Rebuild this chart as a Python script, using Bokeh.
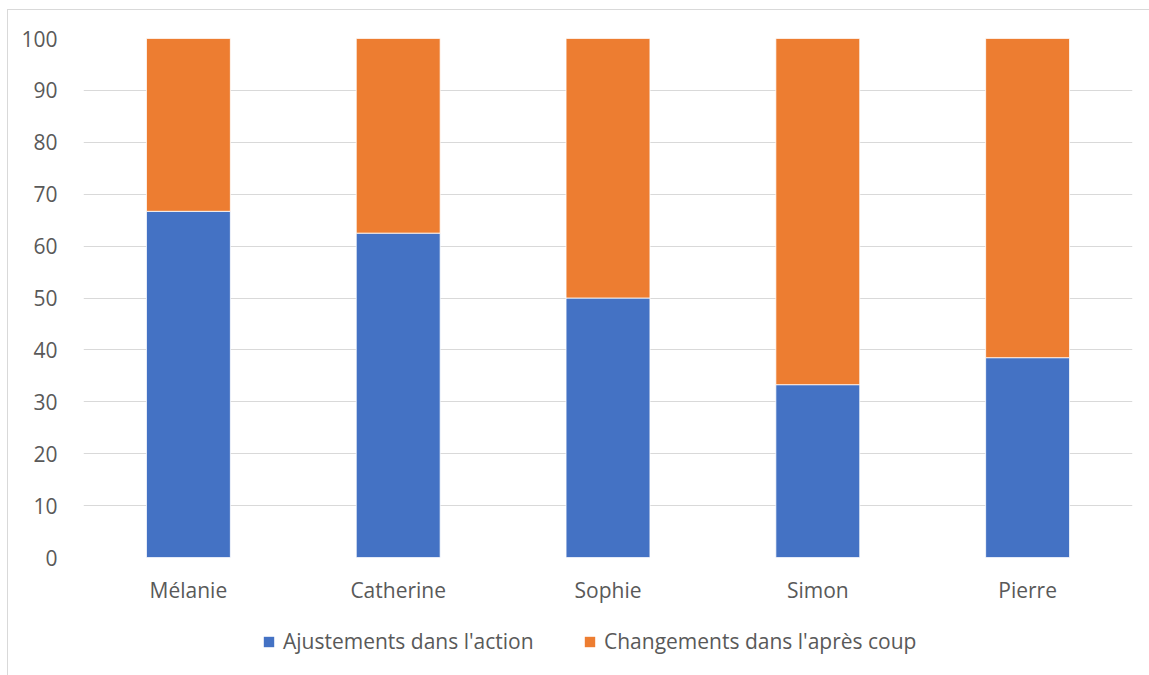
from bokeh.plotting import figure
from bokeh.layouts import column
from bokeh.models import Legend, LegendItem, FixedTicker, ColumnDataSource
from bokeh.embed import file_html
from bokeh.resources import INLINE

names = ["Mélanie", "Catherine", "Sophie", "Simon", "Pierre"]
ajustements = [66.7, 62.5, 50.0, 33.3, 38.5]
changements = [33.3, 37.5, 50.0, 66.7, 61.5]
series = ["Ajustements dans l'action", "Changements dans l'après coup"]
colors = ["#4472C4", "#ED7D31"]
y_ticks = [0, 10, 20, 30, 40, 50, 60, 70, 80, 90, 100]

FONT = "Open Sans"
TXT = "#595959"
FS = "21px"

source = ColumnDataSource(dict(name=names, a=ajustements, c=changements))

# main chart
p = figure(x_range=names, y_range=(0, 100), width=1149, height=610,
           output_backend="svg", toolbar_location=None,
           min_border_left=83, min_border_right=17, min_border_top=38, min_border_bottom=53)
p.x_range.range_padding = 0
p.outline_line_color = None
p.border_fill_color = None
p.background_fill_color = "white"

rs = p.vbar_stack(["a", "c"], x="name", width=0.4, color=colors, source=source,
                  line_color="white", line_width=0.8)

p.yaxis.ticker = FixedTicker(ticks=y_ticks)
for ax in (p.xaxis, p.yaxis):
    ax.axis_line_color = None
    ax.major_tick_line_color = None
    ax.minor_tick_line_color = None
    ax.major_label_text_font = FONT
    ax.major_label_text_font_size = FS
    ax.major_label_text_color = TXT
p.yaxis.major_label_standoff = 20
p.xaxis.major_label_standoff = 12
p.xgrid.grid_line_color = None
p.ygrid.grid_line_color = "#d9d9d9"
p.ygrid.grid_line_width = 1

# legend strip (same series, drawn out of view; only the legend shows)
p2 = figure(x_range=names, y_range=(1000, 1001), width=1149, height=65,
            output_backend="svg", toolbar_location=None,
            min_border_left=83, min_border_right=17, min_border_top=0, min_border_bottom=0)
p2.axis.visible = False
p2.grid.grid_line_color = None
p2.outline_line_color = None
p2.border_fill_color = None
p2.background_fill_color = None
rs2 = p2.vbar_stack(["a", "c"], x="name", width=0.4, color=colors, source=source,
                    line_color=None)

for r, label, x in zip(rs2, series, [179, 500]):
    lg = Legend(items=[LegendItem(label=label, renderers=[r])], location=(x, 20),
                orientation="horizontal", glyph_width=13, glyph_height=13,
                label_standoff=8, padding=0, margin=0, border_line_color=None,
                background_fill_alpha=0, label_text_font=FONT,
                label_text_font_size=FS, label_text_color=TXT)
    p2.add_layout(lg, "center")

layout = column(p, p2, spacing=0, styles={
    "background-color": "white",
    "background-image": "linear-gradient(#d9d9d9,#d9d9d9), linear-gradient(#d9d9d9,#d9d9d9)",
    "background-repeat": "no-repeat",
    "background-position": "7px 9px, 7px 9px",
    "background-size": "1px 100%, 100% 1px",
})

open("out.html", "w").write(file_html(layout, INLINE))
